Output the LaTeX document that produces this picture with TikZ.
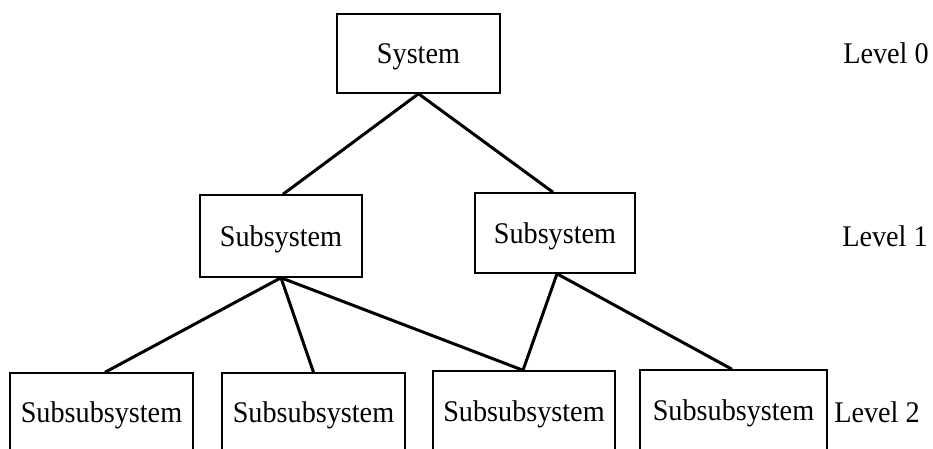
\documentclass[tikz,border=0pt]{standalone}
\usepackage{fontspec}
\setmainfont{Liberation Serif}[FakeStretch=0.94]
\begin{document}
\begin{tikzpicture}[x=1pt,y=-1pt,
  box/.style={draw, line width=1.5pt, inner sep=0pt, text height=20pt, text depth=0pt, font=\fontsize{30}{36}\selectfont},
  lvl/.style={inner sep=0pt, text height=20pt, text depth=0pt, font=\fontsize{30}{36}\selectfont},
  conn/.style={line width=3pt}]
\useasboundingbox (0,0) rectangle (933,448);
\node[box, minimum width=163pt, minimum height=79pt] (sys) at (418.5,53.5) {System};
\node[box, minimum width=162pt, minimum height=82pt] (subL) at (281,236) {Subsystem};
\node[box, minimum width=160pt, minimum height=80pt] (subR) at (555,233) {Subsystem};
\node[box, minimum width=183pt, minimum height=78pt] (b1) at (101.5,412) {Subsubsystem};
\node[box, minimum width=183pt, minimum height=78pt] (b2) at (313.5,412) {Subsubsystem};
\node[box, minimum width=182pt, minimum height=80pt] (b3) at (524,411) {Subsubsystem};
\node[box, minimum width=187pt, minimum height=81pt] (b4) at (733.5,410.5) {Subsubsystem};
\node[lvl] (l0) at (886,53) {Level 0};
\node[lvl] (l1) at (885,236) {Level 1};
\node[lvl] (l2) at (877,412) {Level 2};
\draw[conn] (sys.south) -- ([xshift=2pt]subL.north);
\draw[conn] (sys.south) -- ([xshift=-2pt]subR.north);
\draw[conn] (subL.south) -- ([xshift=3.5pt]b1.north);
\draw[conn] (subL.south) -- (b2.north);
\draw[conn] (subL.south) -- ([xshift=-1pt]b3.north);
\draw[conn] ([xshift=2pt]subR.south) -- ([xshift=-1pt]b3.north);
\draw[conn] ([xshift=2pt]subR.south) -- ([xshift=-1.5pt]b4.north);
\end{tikzpicture}
\end{document}
